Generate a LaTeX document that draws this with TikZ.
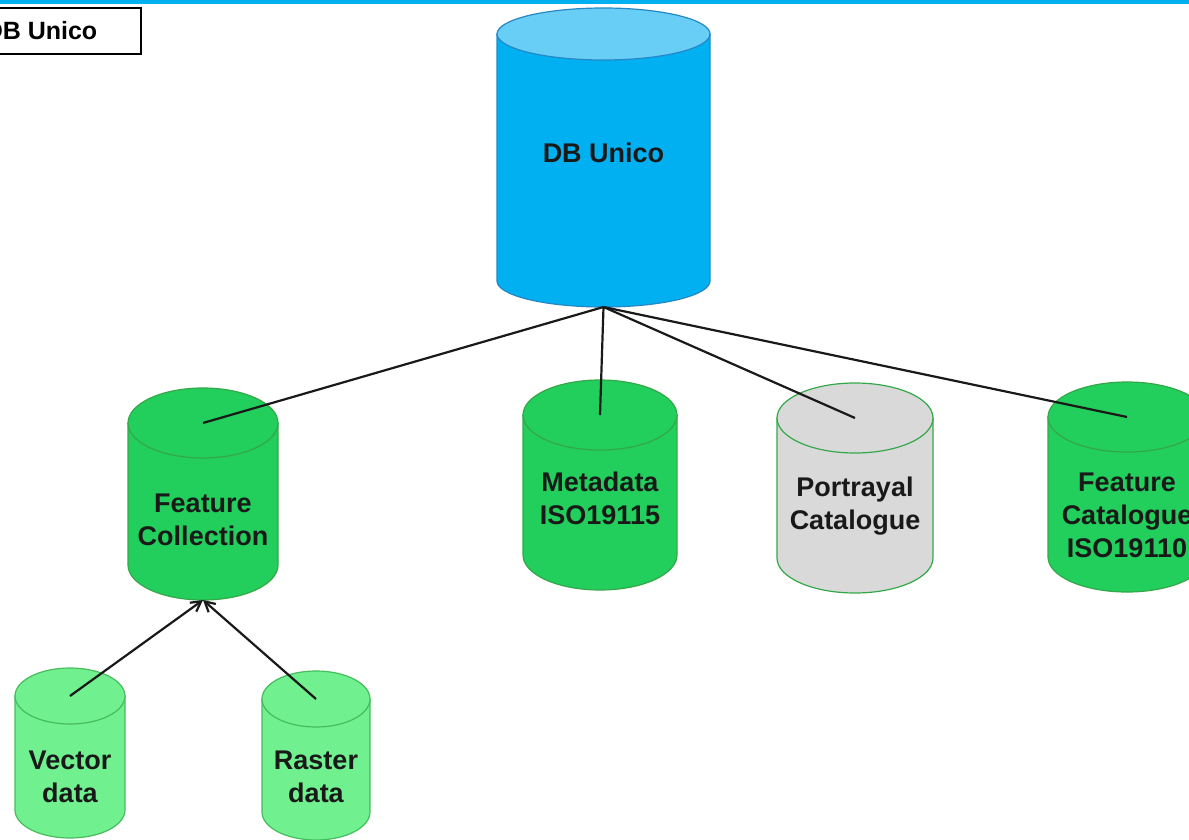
\documentclass[tikz,border=0pt]{standalone}
\usepackage{fontspec}
\setmainfont{Liberation Sans}
\usetikzlibrary{arrows.meta}
\definecolor{dbblue}{RGB}{0,176,240}
\definecolor{dblid}{RGB}{104,206,246}
\definecolor{dbline}{RGB}{36,136,198}
\definecolor{fcgreen}{RGB}{34,206,92}
\definecolor{fcline}{RGB}{52,168,72}
\definecolor{pcgrey}{RGB}{217,217,217}
\definecolor{vdmint}{RGB}{112,240,142}
\definecolor{vdline}{RGB}{70,188,92}
\tikzset{
lbl/.style={font=\fontsize{27}{33}\selectfont\bfseries, align=center, text=black!90}, % text inside the drums
link/.style={draw=black!90, line width=2.2pt}, % connectors
feed/.style={link, -{Straight Barb[length=10pt, width=11pt]}}, % arrows into the collection
titlebox/.style={draw, line width=1.6pt, fill=white, minimum width=200pt, minimum height=46pt, font=\fontsize{25}{30}\selectfont\bfseries},
bluebody/.style={fill=dbblue, draw=dbline, line width=1.2pt},
bluelid/.style={fill=dblid, draw=dbline, line width=1.2pt},
greenbody/.style={fill=fcgreen, draw=fcline, line width=1.2pt},
greenlid/.style={fill=fcgreen, draw=fcline, line width=1.2pt},
greybody/.style={fill=pcgrey, draw=fcline, line width=1.2pt},
greylid/.style={fill=pcgrey, draw=fcline, line width=1.2pt},
mintbody/.style={fill=vdmint, draw=vdline, line width=1.2pt},
mintlid/.style={fill=vdmint, draw=vdline, line width=1.2pt},
}
% name, x, depth of lid, depth of base, x radius, y radius, colour, depth of text, text
\newcommand{\drum}[9]{%
  \path[#7body] (#2-#5,-#3) -- (#2-#5,-#4) arc[start angle=180, end angle=360, x radius=#5, y radius=#6] -- (#2+#5,-#3) -- cycle;
  \path[#7lid] (#2,-#3) ellipse[x radius=#5, y radius=#6];
  \coordinate (#1-lid) at (#2,-#3);
  \coordinate (#1-base) at (#2,-#4-#6);
  \node[lbl] (#1) at (#2,-#8) {#9};
}

\begin{document}
\begin{tikzpicture}[x=1pt, y=1pt]
    \useasboundingbox (0,0) rectangle (1189,-840);
    \clip (0,0) rectangle (1189,-840);
    \fill[dbblue] (0,0) rectangle (1189,-4.5);
    \node[titlebox] (title) at (41,-31) {DB Unico};

    \drum{db}{603.5}{34}{281}{106.5}{26}{blue}{153}{DB Unico}
    \drum{fc}{203}{423}{565}{75}{35}{green}{520}{Feature\\Collection}
    \drum{meta}{600}{415}{555}{77}{35}{green}{498}{Metadata\\ISO19115}
    \drum{port}{855}{418}{558}{78}{35}{grey}{506}{Portrayal\\Catalogue}
    \drum{fcat}{1127}{417}{557}{79}{35}{green}{515}{Feature\\Catalogue\\ISO19110}
    \drum{vec}{70}{696}{810}{55}{28}{mint}{777}{Vector\\data}
    \drum{ras}{316}{699}{812}{54}{28}{mint}{777}{Raster\\data}

    \draw [link] (db-base) -- (fc-lid);
    \draw [link] (db-base) -- (meta-lid);
    \draw [link] (db-base) -- (port-lid);
    \draw [link] (db-base) -- (fcat-lid);
    \draw [feed] (vec-lid) -- (fc-base);
    \draw [feed] (ras-lid) -- (fc-base);
\end{tikzpicture}
\end{document}
